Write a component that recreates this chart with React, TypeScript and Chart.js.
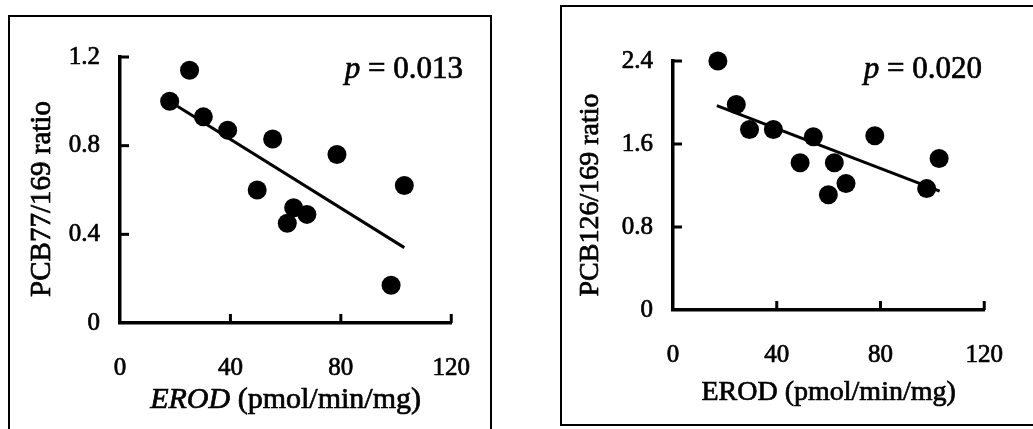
import React, { useEffect, useRef } from 'react';
import { Chart, registerables } from 'chart.js';

Chart.register(...registerables);

// ---- data ----
const xTickValues = [0, 40, 80, 120];
const leftYTickValues = [0, 0.4, 0.8, 1.2];
const rightYTickValues = [0, 0.8, 1.6, 2.4];

const leftErod = [18.0, 25.2, 30.2, 39.0, 55.3, 49.7, 62.9, 67.7, 60.6, 78.6, 103.0, 98.2];
const leftRatio = [1.0, 1.14, 0.93, 0.87, 0.83, 0.6, 0.52, 0.49, 0.45, 0.76, 0.62, 0.17];
const leftFitX = [19.2, 103.0];
const leftFitY = [0.99, 0.34];

const rightErod = [17.3, 24.4, 29.5, 38.7, 54.1, 49.0, 62.2, 66.7, 59.9, 77.8, 102.6, 97.8];
const rightRatio = [2.4, 1.98, 1.74, 1.74, 1.67, 1.42, 1.42, 1.22, 1.11, 1.68, 1.46, 1.17];
const rightFitX = [16.9, 102.8];
const rightFitY = [1.97, 1.145];

const SERIF = "'Liberation Serif', 'Times New Roman', serif";
const TEXT_STROKE = 0.7;

type PanelCfg = {
  width: number;
  height: number;
  xs: number[];
  ys: number[];
  fitX: number[];
  fitY: number[];
  yTicks: number[];
  yMax: number;
  yAxisWidth: number;
  xAxisHeight: number;
  padTop: number;
  padRight: number;
  yTitle: string;
  yTitleX: number;
  yTitleY: number;
  xTitleItalic: boolean;
  xTitleBaseline: number;
  xTitleSize: number;
  yTitleSize: number;
  pValue: string;
  pEndX: number;
  pBaseline: number;
};

function heavyText(ctx: CanvasRenderingContext2D, s: string, x: number, y: number) {
  ctx.fillText(s, x, y);
  ctx.lineWidth = TEXT_STROKE;
  ctx.strokeText(s, x, y);
}

function decorPlugin(cfg: PanelCfg) {
  return {
    id: 'decor',
    afterDraw(chart: any) {
      const ctx = chart.ctx as CanvasRenderingContext2D;
      const xs = chart.scales.x;
      const ys = chart.scales.y;
      const { left, right, bottom } = chart.chartArea;
      ctx.save();
      ctx.strokeStyle = '#000';
      ctx.fillStyle = '#000';
      ctx.lineCap = 'butt';
      xTickValues.forEach((v) => {
        if (v === 0) return;
        const px = xs.getPixelForValue(v);
        ctx.lineWidth = 3;
        ctx.beginPath();
        ctx.moveTo(px, bottom);
        ctx.lineTo(px, bottom - 9);
        ctx.stroke();
      });
      cfg.yTicks.forEach((v) => {
        if (v === 0) return;
        const py = ys.getPixelForValue(v);
        ctx.lineWidth = 3;
        ctx.beginPath();
        ctx.moveTo(left, py);
        ctx.lineTo(left + 9, py);
        ctx.stroke();
      });

      // x title
      const cx = (left + right) / 2;
      ctx.textBaseline = 'alphabetic';
      ctx.textAlign = 'left';
      const italicFont = `italic ${cfg.xTitleSize}px ${SERIF}`;
      const romanFont = `${cfg.xTitleSize}px ${SERIF}`;
      const part1 = 'EROD';
      const part2 = ' (pmol/min/mg)';
      ctx.font = cfg.xTitleItalic ? italicFont : romanFont;
      const w1 = ctx.measureText(part1).width;
      ctx.font = romanFont;
      const w2 = ctx.measureText(part2).width;
      const sx = cx - (w1 + w2) / 2;
      ctx.font = cfg.xTitleItalic ? italicFont : romanFont;
      heavyText(ctx, part1, sx, cfg.xTitleBaseline);
      ctx.font = romanFont;
      heavyText(ctx, part2, sx + w1, cfg.xTitleBaseline);

      // y title
      ctx.save();
      ctx.translate(cfg.yTitleX, cfg.yTitleY);
      ctx.rotate(-Math.PI / 2);
      ctx.textAlign = 'center';
      ctx.font = `${cfg.yTitleSize}px ${SERIF}`;
      heavyText(ctx, cfg.yTitle, 0, 0);
      ctx.restore();

      // p value
      const pFontI = `italic 31px ${SERIF}`;
      const pFontR = `31px ${SERIF}`;
      ctx.textAlign = 'left';
      ctx.font = pFontI;
      const wp = ctx.measureText('p').width;
      ctx.font = pFontR;
      const rest = ' = ' + cfg.pValue;
      const wr = ctx.measureText(rest).width;
      const px0 = cfg.pEndX - wp - wr;
      ctx.font = pFontI;
      heavyText(ctx, 'p', px0, cfg.pBaseline);
      ctx.font = pFontR;
      heavyText(ctx, rest, px0 + wp, cfg.pBaseline);
      ctx.restore();
    },
  };
}

function Panel({ cfg, style }: { cfg: PanelCfg; style: React.CSSProperties }) {
  const ref = useRef<HTMLCanvasElement | null>(null);
  useEffect(() => {
    if (!ref.current) return;
    const points = cfg.xs.map((x, i) => ({ x, y: cfg.ys[i] }));
    const fit = cfg.fitX.map((x, i) => ({ x, y: cfg.fitY[i] }));
    const tickFont = { family: SERIF, size: 25 };
    const chart = new Chart(ref.current, {
      type: 'scatter',
      data: {
        datasets: [
          {
            data: fit,
            showLine: true,
            borderColor: '#000',
            borderWidth: 3,
            pointRadius: 0,
            clip: false,
          } as any,
          {
            data: points,
            backgroundColor: '#000',
            borderColor: '#000',
            borderWidth: 0,
            pointRadius: 9.5,
            clip: false,
          } as any,
        ],
      },
      options: {
        responsive: false,
        animation: false,
        devicePixelRatio: 1,
        layout: { padding: { left: 0, top: cfg.padTop, right: cfg.padRight, bottom: 0 } },
        plugins: { legend: { display: false }, tooltip: { enabled: false } },
        scales: {
          x: {
            type: 'linear',
            min: 0,
            max: 120,
            afterBuildTicks: (s: any) => {
              s.ticks = xTickValues.map((v) => ({ value: v }));
            },
            afterFit: (s: any) => {
              s.height = cfg.xAxisHeight;
            },
            grid: { display: false, drawTicks: false },
            border: { display: true, color: '#000', width: 3.5 },
            ticks: {
              color: '#000',
              font: tickFont,
              padding: 30,
              maxRotation: 0,
              textStrokeColor: '#000',
              textStrokeWidth: TEXT_STROKE,
            },
          },
          y: {
            type: 'linear',
            min: 0,
            max: cfg.yMax,
            afterBuildTicks: (s: any) => {
              s.ticks = cfg.yTicks.map((v) => ({ value: v }));
            },
            afterFit: (s: any) => {
              s.width = cfg.yAxisWidth;
            },
            grid: { display: false, drawTicks: false },
            border: { display: true, color: '#000', width: 3.5 },
            ticks: {
              color: '#000',
              font: tickFont,
              padding: 20,
              textStrokeColor: '#000',
              textStrokeWidth: TEXT_STROKE,
              callback: (v: any) => String(v),
            },
          },
        },
      } as any,
      plugins: [decorPlugin(cfg)],
    });
    return () => chart.destroy();
  }, [cfg]);
  return <canvas ref={ref} width={cfg.width} height={cfg.height} style={{ position: 'absolute', ...style }} />;
}

const leftCfg: PanelCfg = {
  width: 500,
  height: 429,
  xs: leftErod,
  ys: leftRatio,
  fitX: leftFitX,
  fitY: leftFitY,
  yTicks: leftYTickValues,
  yMax: 1.2,
  yAxisWidth: 120,
  xAxisHeight: 106,
  padTop: 57,
  padRight: 46,
  yTitle: 'PCB77/169 ratio',
  yTitleX: 50,
  yTitleY: 199,
  xTitleItalic: true,
  xTitleBaseline: 408,
  xTitleSize: 30,
  yTitleSize: 29,
  pValue: '0.013',
  pEndX: 463,
  pBaseline: 78,
};

const rightCfg: PanelCfg = {
  width: 513,
  height: 429,
  xs: rightErod,
  ys: rightRatio,
  fitX: rightFitX,
  fitY: rightFitY,
  yTicks: rightYTickValues,
  yMax: 2.4,
  yAxisWidth: 153,
  xAxisHeight: 119,
  padTop: 61,
  padRight: 48,
  yTitle: 'PCB126/169 ratio',
  yTitleX: 78,
  yTitleY: 195,
  xTitleItalic: false,
  xTitleBaseline: 400,
  xTitleSize: 28,
  yTitleSize: 28,
  pValue: '0.020',
  pEndX: 462,
  pBaseline: 78,
};

export default function App() {
  return (
    <div
      style={{
        position: 'fixed',
        left: 0,
        top: 0,
        width: 1033,
        height: 429,
        overflow: 'hidden',
        background: '#fff',
      }}
    >
      <div
        style={{
          position: 'absolute',
          left: 8,
          top: 15,
          width: 480,
          height: 440,
          borderTop: '2px solid #000',
          borderLeft: '2px solid #000',
          borderRight: '2px solid #000',
        }}
      />
      <div
        style={{
          position: 'absolute',
          left: 560,
          top: 5,
          width: 500,
          height: 417,
          borderTop: '2px solid #000',
          borderLeft: '2px solid #000',
          borderBottom: '2px solid #000',
        }}
      />
      <Panel cfg={leftCfg} style={{ left: 0, top: 0 }} />
      <Panel cfg={rightCfg} style={{ left: 520, top: 0 }} />
    </div>
  );
}
